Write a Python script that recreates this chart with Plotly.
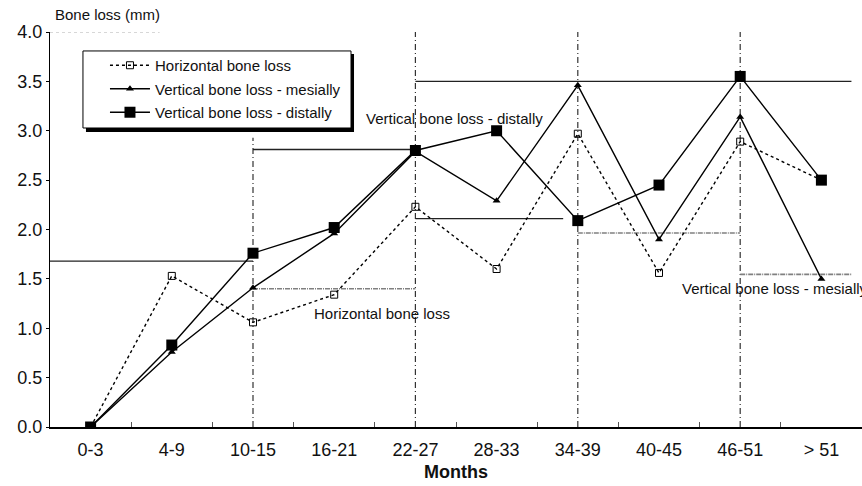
import plotly.graph_objects as go

# ---- data ----
categories = ["0-3", "4-9", "10-15", "16-21", "22-27", "28-33", "34-39", "40-45", "46-51", "> 51"]
horizontal = [0.00, 1.53, 1.06, 1.34, 2.23, 1.60, 2.97, 1.56, 2.89, 2.50]
mesial = [0.00, 0.76, 1.41, 1.96, 2.79, 2.29, 3.46, 1.90, 3.14, 1.50]
distal = [0.00, 0.83, 1.76, 2.02, 2.80, 3.00, 2.09, 2.45, 3.55, 2.50]

# period mean levels (horizontal reference segments)
mean_levels = [1.68, 2.81, 1.40, 2.11, 3.50, 1.965, 1.546]
mean_start = [-0.5, 2, 2, 4, 4, 6, 8]
mean_end = [2, 4, 4, 5.82, 9.37, 8, 9.37]
mean_kind = ["solid", "solid", "gray", "solid", "solid", "gray", "gray"]

# period dividers (category index) and their top values
divider_pos = [2, 4, 6, 8]
divider_top = [2.93, 4.0, 4.0, 4.0]

y_ticks = [0.0, 0.5, 1.0, 1.5, 2.0, 2.5, 3.0, 3.5, 4.0]
y_ticklabels = ["0.0", "0.5", "1.0", "1.5", "2.0", "2.5", "3.0", "3.5", "4.0"]

FONT = "Arial, 'Liberation Sans', sans-serif"

fig = go.Figure()

fig.add_trace(go.Scatter(
    x=categories, y=horizontal, mode="lines+markers", name="Horizontal bone loss",
    line=dict(color="black", width=1.4, dash="dot"),
    marker=dict(symbol="square-open", size=7, color="black", line=dict(width=1)),
    legendgroup="a",
))
fig.add_trace(go.Scatter(
    x=categories, y=mesial, mode="lines+markers", name="Vertical bone loss - mesially",
    line=dict(color="black", width=1.4),
    marker=dict(symbol="triangle-up", size=7, color="black"),
    legendgroup="b",
))
fig.add_trace(go.Scatter(
    x=categories, y=distal, mode="lines+markers", name="Vertical bone loss - distally",
    line=dict(color="black", width=1.4),
    marker=dict(symbol="square", size=11, color="black"),
    legendgroup="c",
))

shapes = []
for x, top in zip(divider_pos, divider_top):
    shapes.append(dict(type="line", xref="x", yref="y", x0=x, x1=x, y0=0, y1=top,
                       line=dict(color="#333333", width=1.2, dash="6px,3px,1px,3px"), layer="below"))
for lvl, s, e, k in zip(mean_levels, mean_start, mean_end, mean_kind):
    if k == "solid":
        ln = dict(color="#222222", width=1.3)
    else:
        ln = dict(color="#808080", width=1.6, dash="5px,1px,1px,1px")
    shapes.append(dict(type="line", xref="x", yref="y", x0=s, x1=e, y0=lvl, y1=lvl,
                       line=ln, layer="below"))
# faint top frame line
shapes.append(dict(type="line", xref="paper", yref="y", x0=0, x1=0.135, y0=4, y1=4,
                   line=dict(color="#b0b0b0", width=1, dash="dot"), layer="below"))
# legend shadow and box
shapes.append(dict(type="rect", xref="paper", yref="paper", x0=0.0443, x1=0.3744, y0=0.747, y1=0.944,
                   fillcolor="black", line=dict(width=0), layer="above"))
shapes.append(dict(type="rect", xref="paper", yref="paper", x0=0.0406, x1=0.3707, y0=0.757, y1=0.952,
                   fillcolor="white", line=dict(color="black", width=1), layer="above"))

annotations = [
    dict(text="Bone loss (mm)", xref="paper", yref="paper", x=0.0037, y=1.045,
         xanchor="left", yanchor="middle", showarrow=False, font=dict(size=15, color="#111")),
    dict(text="<b>Months</b>", xref="paper", yref="paper", x=0.5, y=-0.115,
         xanchor="center", yanchor="middle", showarrow=False, font=dict(size=18, color="#111")),
    dict(text="Vertical bone loss - distally", xref="x", yref="y", x=4.48, y=3.12,
         xanchor="center", yanchor="middle", showarrow=False, font=dict(size=15, color="#111")),
    dict(text="Horizontal bone loss", xref="x", yref="y", x=3.59, y=1.15,
         xanchor="center", yanchor="middle", showarrow=False, font=dict(size=15, color="#111")),
    dict(text="Vertical bone loss - mesially", xref="x", yref="y", x=7.26, y=1.40,
         xanchor="left", yanchor="middle", showarrow=False, font=dict(size=15, color="#111")),
]

fig.update_layout(
    width=862, height=486,
    margin=dict(l=50, r=0, t=32, b=59, autoexpand=False),
    paper_bgcolor="white", plot_bgcolor="white",
    font=dict(family=FONT, color="#111"),
    showlegend=True,
    legend=dict(x=0.0677, y=0.957, xanchor="left", yanchor="top",
                bgcolor="rgba(0,0,0,0)", borderwidth=0,
                font=dict(size=15, color="#111"), tracegroupgap=1,
                itemwidth=40),
    shapes=shapes,
    annotations=annotations,
    xaxis=dict(type="category", range=[-0.5, 9.5], showgrid=False, zeroline=False,
               showline=True, linecolor="black", linewidth=2, automargin=False,
               ticks="inside", tickson="boundaries", ticklen=5, tickcolor="#555",
               ticklabelstandoff=5,
               tickfont=dict(size=18, color="#111"), fixedrange=True),
    yaxis=dict(range=[0, 4], showgrid=False, zeroline=False, automargin=False,
               showline=True, linecolor="black", linewidth=1.2,
               tickvals=y_ticks, ticktext=y_ticklabels,
               ticks="outside", ticklen=3, tickcolor="black",
               tickfont=dict(size=18, color="#111"), fixedrange=True),
)

fig.write_html("out.html", config={"displayModeBar": False},
               post_script="document.body.style.margin='0';document.body.style.overflow='hidden';")
